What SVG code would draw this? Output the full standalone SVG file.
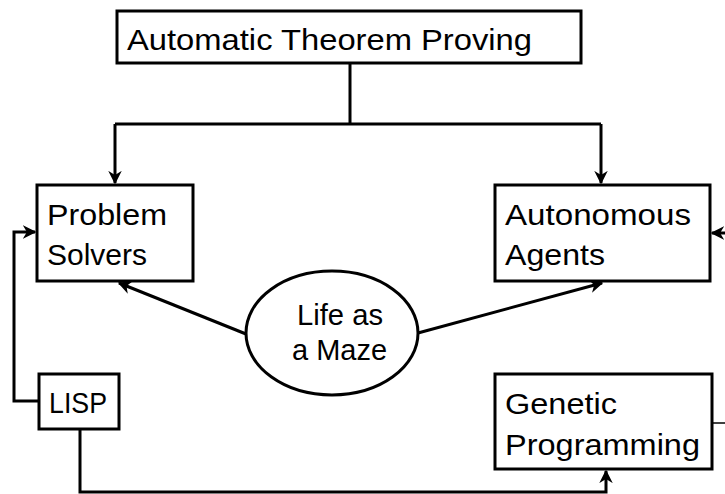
<svg xmlns="http://www.w3.org/2000/svg" width="725" height="494" viewBox="0 0 725 494">
<defs>
<style>
.box{fill:#fff;stroke:#000;stroke-width:3}
.t{font-family:"Liberation Sans",Arial,sans-serif;font-size:30px;fill:#000}
.c{fill:none;stroke:#000;stroke-width:3}
</style>
<marker id="ah" viewBox="0 0 10 10" refX="9" refY="5" markerWidth="4.5" markerHeight="4.5" orient="auto" markerUnits="strokeWidth">
<path d="M0,0 L10,5 L0,10 L3,5 Z" fill="#000"/>
</marker>
</defs>
<rect width="725" height="494" fill="#fff"/>
<g id="connectors">
<path class="c" d="M350,63 V124"/>
<path class="c" d="M115,124 H601"/>
<path class="c" d="M115,124 V183" marker-end="url(#ah)"/>
<path class="c" d="M601,124 V183" marker-end="url(#ah)"/>
<path class="c" d="M246,334 L119,283" marker-end="url(#ah)"/>
<path class="c" d="M418,333 L602,283" marker-end="url(#ah)"/>
<path class="c" d="M39,401 H14 V232 H35" marker-end="url(#ah)"/>
<path class="c" d="M80,429 V492 H606 V471" marker-end="url(#ah)"/>
<path class="c" d="M727,233 H712" marker-end="url(#ah)"/>
<path d="M712,423 H725" stroke="#000" stroke-width="1.5"/>
</g>
<g id="atp">
<rect class="box" x="117" y="11" width="464" height="52"/>
<text class="t" x="127" y="50" textLength="405" lengthAdjust="spacingAndGlyphs">Automatic Theorem Proving</text>
</g>
<g id="problem-solvers">
<rect class="box" x="37" y="185" width="156" height="96"/>
<text class="t" x="47" y="225" textLength="120" lengthAdjust="spacingAndGlyphs">Problem</text>
<text class="t" x="47" y="265" textLength="100" lengthAdjust="spacingAndGlyphs">Solvers</text>
</g>
<g id="autonomous-agents">
<rect class="box" x="495" y="185" width="215" height="96"/>
<text class="t" x="505" y="225" textLength="186" lengthAdjust="spacingAndGlyphs">Autonomous</text>
<text class="t" x="505" y="265" textLength="100" lengthAdjust="spacingAndGlyphs">Agents</text>
</g>
<g id="life-maze">
<ellipse class="box" cx="332" cy="333" rx="86" ry="62"/>
<text class="t" x="297" y="325" textLength="86" lengthAdjust="spacingAndGlyphs">Life as</text>
<text class="t" x="292" y="360" textLength="95" lengthAdjust="spacingAndGlyphs">a Maze</text>
</g>
<g id="lisp">
<rect class="box" x="39" y="374" width="80" height="55"/>
<text class="t" x="49" y="413" textLength="58" lengthAdjust="spacingAndGlyphs">LISP</text>
</g>
<g id="genetic-programming">
<rect class="box" x="495" y="374" width="217" height="95"/>
<text class="t" x="505" y="414" textLength="112" lengthAdjust="spacingAndGlyphs">Genetic</text>
<text class="t" x="505" y="455" textLength="195" lengthAdjust="spacingAndGlyphs">Programming</text>
</g>
</svg>
